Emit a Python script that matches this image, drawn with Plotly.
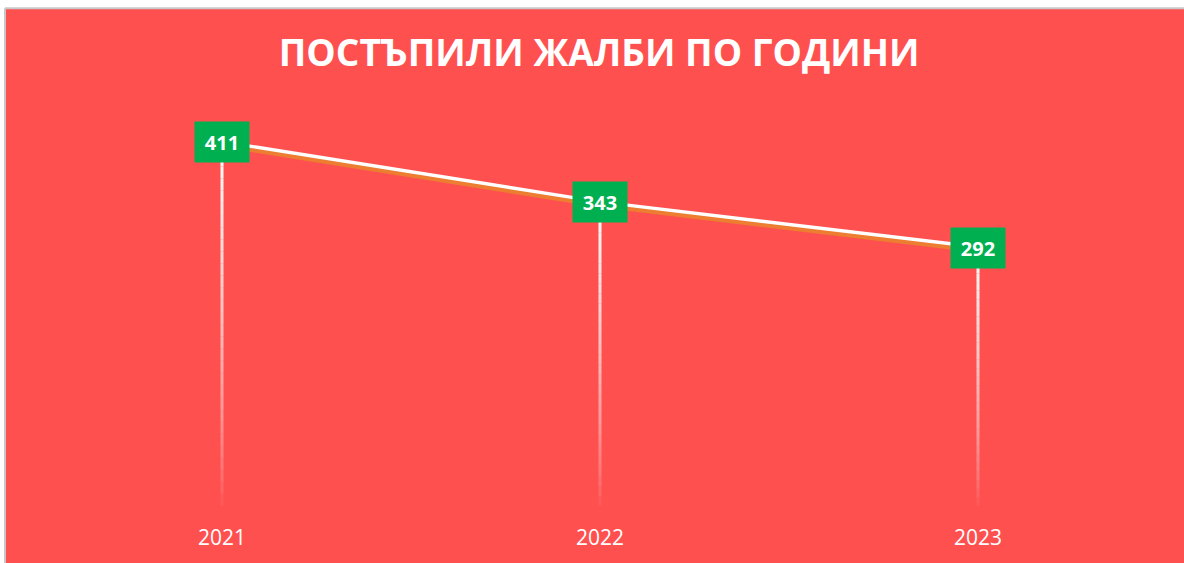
import plotly.graph_objects as go

years = ["2021", "2022", "2023"]
complaints = [411, 343, 292]
title_text = "ПОСТЪПИЛИ ЖАЛБИ ПО ГОДИНИ"

BG = "#FF5050"
GREEN = "#00B050"
ORANGE = "#ED7D31"
BORDER = "#C8C8C8"

fig = go.Figure()

# drop lines with a fading gradient (white at the point, transparent at the axis)
n_seg = 30
for xi, v in zip(years, complaints):
    for i in range(n_seg):
        lo = v * i / n_seg
        hi = v * (i + 1) / n_seg
        op = ((i + 0.5) / n_seg) ** 0.7
        fig.add_trace(go.Scatter(
            x=[xi, xi], y=[lo, hi], mode="lines",
            line=dict(color=f"rgba(255,255,255,{op:.3f})", width=3),
            hoverinfo="skip", showlegend=False, yaxis="y"))

# orange shadow line (drawn on a shifted overlay axis)
fig.add_trace(go.Scatter(
    x=years, y=complaints, mode="lines",
    line=dict(color=ORANGE, width=4),
    hoverinfo="skip", showlegend=False, yaxis="y2"))

# main white line
fig.add_trace(go.Scatter(
    x=years, y=complaints, mode="lines",
    line=dict(color="white", width=4.5),
    showlegend=False, yaxis="y"))

# data labels (category index positions)
for idx, v in enumerate(complaints):
    fig.add_annotation(
        x=idx, y=v, xref="x", yref="y", text=f"<b>{v}</b>",
        showarrow=False, bgcolor=GREEN, width=52, height=38,
        font=dict(family="Open Sans", size=20, color="white"),
        align="center", valign="middle")

# background panel with thin grey border on top and left
fig.add_shape(type="rect", xref="paper", yref="paper",
              x0=-0.0247, x1=1.2, y0=-0.3, y1=1.2444,
              fillcolor=BG, line=dict(width=0), layer="below")
fig.add_shape(type="line", xref="paper", yref="paper",
              x0=-0.0247, x1=1.2, y0=1.2444, y1=1.2444,
              line=dict(color=BORDER, width=2), layer="below")
fig.add_shape(type="line", xref="paper", yref="paper",
              x0=-0.0247, x1=-0.0247, y0=-0.3, y1=1.2444,
              line=dict(color=BORDER, width=2), layer="below")

fig.update_layout(
    width=1184, height=563,
    margin=dict(l=33, r=17, t=106, b=52),
    paper_bgcolor="white",
    plot_bgcolor="rgba(0,0,0,0)",
    title=dict(text=f"<b>{title_text}</b>", x=0.506, xanchor="center",
               y=1 - 53 / 563, yanchor="middle",
               font=dict(family="Open Sans", size=37, color="white")),
    xaxis=dict(type="category", range=[-0.5, 2.5], showgrid=False,
               zeroline=False, showline=False, ticks="",
               tickfont=dict(family="Open Sans", size=21, color="white"),
               ticklabelstandoff=17),
    yaxis=dict(range=[0, 452], visible=False, fixedrange=True),
    yaxis2=dict(range=[3.5, 455.5], visible=False, overlaying="y",
                fixedrange=True),
    showlegend=False,
)

fig.write_html("out.html", config={"displayModeBar": False},
               post_script="document.body.style.margin='0';document.body.style.overflow='hidden';")
